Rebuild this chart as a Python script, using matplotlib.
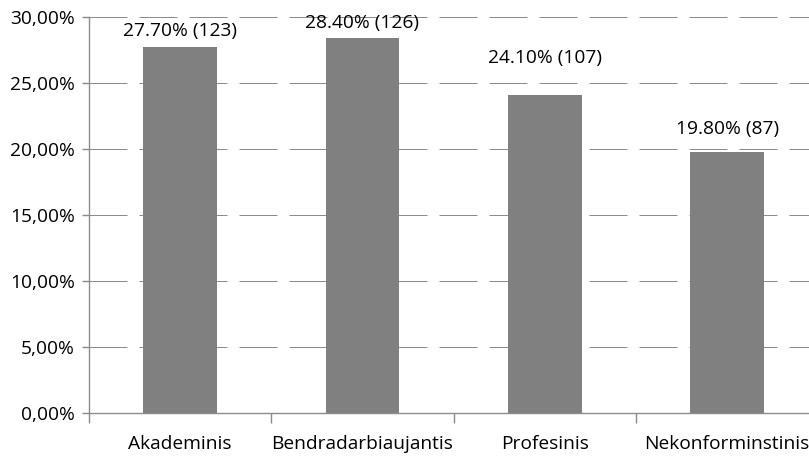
import matplotlib
matplotlib.use("Agg")
import matplotlib.pyplot as plt
from matplotlib.ticker import FixedLocator, FuncFormatter

plt.rcParams["font.family"] = ["Open Sans", "DejaVu Sans"]

# Survey shares per profile type (percent) and respondent counts
categories = ["Akademinis", "Bendradarbiaujantis", "Profesinis", "Nekonforminstinis"]
shares = [27.70, 28.40, 24.10, 19.80]
counts = [123, 126, 107, 87]

# vertical offset (points) of each value label above its bar
label_offsets = [11.5, 11, 26.5, 16]

GRAY = "#808080"
AXIS = "#8c8c8c"
FS = 13.8

fig = plt.figure(figsize=(8.09, 4.57), dpi=100)
ax = fig.add_axes([0.110, 0.0963, 0.9014, 0.8665])

x = range(len(categories))
ax.bar(x, [s / 100 for s in shares], width=0.405, color=GRAY, zorder=2)

for xi, s, n, off in zip(x, shares, counts, label_offsets):
    ax.annotate(f"{s:.2f}% ({n})", (xi, s / 100), xytext=(0, off),
                textcoords="offset points", ha="center", va="center",
                fontsize=FS, color="#000000", zorder=3)

ax.set_xlim(-0.5, len(categories) - 0.5)
ax.set_ylim(0, 0.30)

# y axis: percent with comma decimal separator
ax.yaxis.set_major_locator(FixedLocator([i * 0.05 for i in range(7)]))
ax.yaxis.set_major_formatter(FuncFormatter(lambda v, p: f"{v * 100:.2f}%".replace(".", ",")))
ax.tick_params(axis="y", length=5, width=1, color=AXIS, pad=5, labelsize=FS)

# x axis: ticks between categories, names centred under bars
ax.xaxis.set_major_locator(FixedLocator([i - 0.5 for i in range(len(categories))]))
ax.xaxis.set_major_formatter(FuncFormatter(lambda v, p: ""))
ax.xaxis.set_minor_locator(FixedLocator(list(x)))
ax.set_xticklabels(categories, minor=True)
ax.tick_params(axis="x", which="major", length=7, width=1, color=AXIS)
ax.tick_params(axis="x", which="minor", length=0, pad=16, labelsize=FS)

# dashed horizontal grid: 38px dashes, 12px gaps at 1px width
ax.set_axisbelow(True)
ax.yaxis.grid(True, color=AXIS, linewidth=0.72, linestyle=(0, (38, 12)))

for side in ("top", "right"):
    ax.spines[side].set_visible(False)
for side in ("left", "bottom"):
    ax.spines[side].set_color(AXIS)
    ax.spines[side].set_linewidth(1.0)

fig.savefig("out.png", dpi=100)
